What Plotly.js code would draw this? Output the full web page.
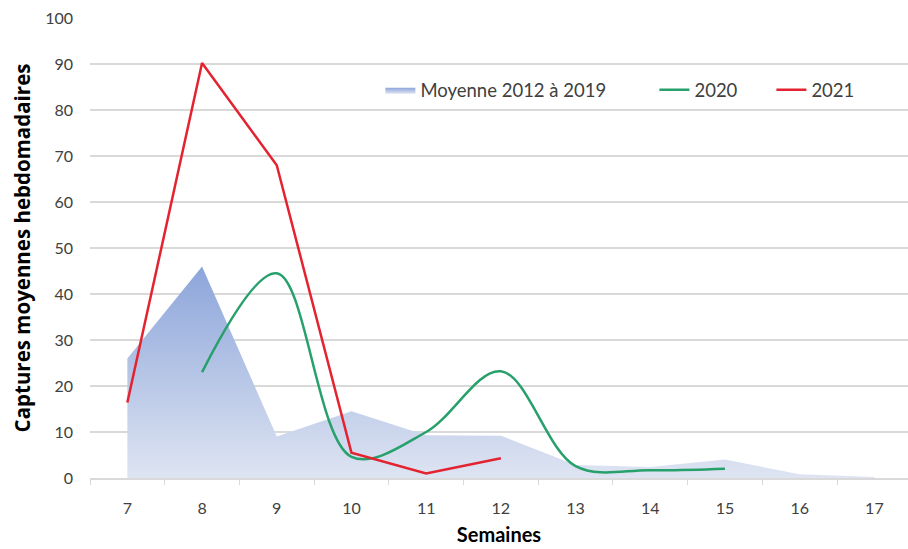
<!DOCTYPE html>
<html><head><meta charset="utf-8">
<script src="https://cdn.plot.ly/plotly-3.0.1.min.js"></script>
<style>html,body{margin:0;padding:0;background:#fff}#chart{width:908px;height:549px}</style>
</head><body><div id="chart"></div>
<script>
const weeks = [7, 8, 9, 10, 11, 12, 13, 14, 15, 16, 17];
const moyenne = [26, 46, 9, 14.5, 9.3, 9.2, 2.8, 2.4, 4, 0.8, 0.2];
const weeks2020 = [8, 9, 10, 11, 12, 13, 14, 15];
const v2020 = [23, 44.5, 4.6, 10, 23.2, 2.6, 1.7, 2.0];
const weeks2021 = [7, 8, 9, 10, 11, 12];
const v2021 = [16.4, 90.2, 68, 5.5, 1.0, 4.3];
const tickLabels = ['7','8','9','10','11','12','13','14','15','16','17'];

const font = 'Lato, "Open Sans", sans-serif';
const traces = [
  {x: weeks, y: moyenne, name: 'Moyenne 2012 à 2019', type: 'scatter', mode: 'lines',
   fill: 'tozeroy', line: {width: 0, color: 'rgba(0,0,0,0)'},
   fillcolor: 'rgba(170,188,228,0.8)',
   fillgradient: {type: 'vertical', colorscale: [[0, 'rgb(222,228,242)'], [1, 'rgb(140,165,218)']]},
   legend: 'legend', hoverinfo: 'skip'},
  {x: weeks2020, y: v2020, name: '2020', type: 'scatter', mode: 'lines',
   line: {color: '#27a06c', width: 2.5, shape: 'spline', smoothing: 1}, legend: 'legend2'},
  {x: weeks2021, y: v2021, name: '2021', type: 'scatter', mode: 'lines',
   line: {color: '#e42330', width: 2.5}, legend: 'legend3'}
];
const legendBase = {orientation: 'h', bgcolor: 'rgba(0,0,0,0)', yanchor: 'middle', y: 0.843,
  font: {family: font, size: 18.5, color: '#404040'}, xanchor: 'left'};
const layout = {
  width: 908, height: 549,
  margin: {l: 90, r: 0, t: 18, b: 71},
  paper_bgcolor: '#fff', plot_bgcolor: '#fff',
  font: {family: font, color: '#404040'},
  xaxis: {range: [6.5, 17.45], tickvals: weeks, ticktext: tickLabels, showgrid: false,
    zeroline: false, showline: true, linecolor: '#d9d9d9', linewidth: 1.5, ticks: '',
    ticklabelstandoff: 15, tickfont: {family: font, size: 16, color: '#404040'},
    minor: {tick0: 6.5, dtick: 1, ticks: 'outside', ticklen: 5, tickcolor: '#d9d9d9', showgrid: false},
    title: {text: '<b>Semaines</b>', font: {family: font, size: 20, color: '#000'}, standoff: 12}},
  yaxis: {range: [0, 100], dtick: 10, showgrid: true, gridcolor: '#d9d9d9', gridwidth: 1.5,
    zeroline: false, showline: false, ticks: '', ticklabelstandoff: 16,
    tickfont: {family: font, size: 16, color: '#404040'},
    title: {text: '<b>Captures moyennes hebdomadaires</b>', font: {family: '"Open Sans", sans-serif', size: 20.5, color: '#000'}, standoff: 8}},
  legend: Object.assign({}, legendBase, {x: 0.355}),
  legend2: Object.assign({}, legendBase, {x: 0.69}),
  legend3: Object.assign({}, legendBase, {x: 0.833}),
  showlegend: true
};
Plotly.newPlot('chart', traces, layout, {displayModeBar: false});
</script></body></html>
